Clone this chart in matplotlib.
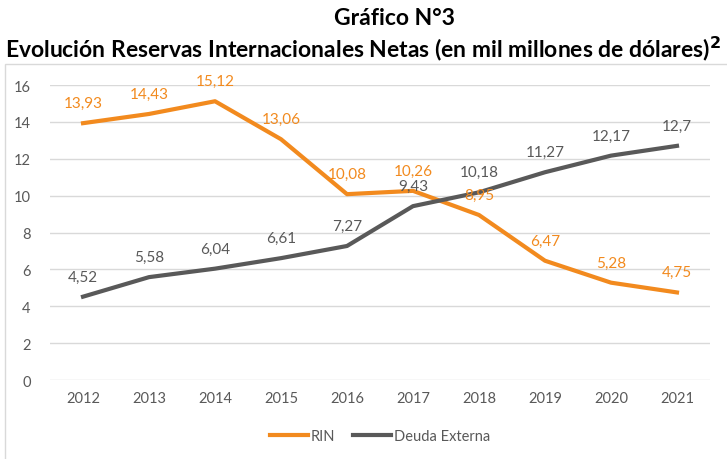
import matplotlib
matplotlib.use("Agg")
import matplotlib.pyplot as plt
from matplotlib.patches import Rectangle

plt.rcParams['font.family'] = ['Lato', 'DejaVu Sans']

years = [2012, 2013, 2014, 2015, 2016, 2017, 2018, 2019, 2020, 2021]
rin = [13.93, 14.43, 15.12, 13.06, 10.08, 10.26, 8.95, 6.47, 5.28, 4.75]
deuda = [4.52, 5.58, 6.04, 6.61, 7.27, 9.43, 10.18, 11.27, 12.17, 12.7]
rin_labels = ["13,93", "14,43", "15,12", "13,06", "10,08", "10,26", "8,95", "6,47", "5,28", "4,75"]
deuda_labels = ["4,52", "5,58", "6,04", "6,61", "7,27", "9,43", "10,18", "11,27", "12,17", "12,7"]

orange = "#F28A1E"
gray = "#595959"

fig = plt.figure(figsize=(7.27, 4.6), dpi=100)
ax = fig.add_axes([0.0688, 0.1717, 0.9078, 0.6413])

x = list(range(len(years)))
ax.plot(x, rin, color=orange, lw=3, label="RIN", solid_joinstyle="round")
ax.plot(x, deuda, color=gray, lw=3, label="Deuda Externa", solid_joinstyle="round")

for xi, v, t in zip(x, rin, rin_labels):
    ax.annotate(t, (xi, v), xytext=(0, 9.5), textcoords="offset points",
                ha="center", va="bottom", color=orange, fontsize=11)
for xi, v, t in zip(x, deuda, deuda_labels):
    ax.annotate(t, (xi, v), xytext=(0, 9.5), textcoords="offset points",
                ha="center", va="bottom", color=gray, fontsize=11)

ax.set_xlim(-0.5, len(years) - 0.5)
ax.set_ylim(0, 16)
ax.set_yticks(range(0, 17, 2))
ax.set_xticks(x)
ax.set_xticklabels([str(y) for y in years])
ax.grid(axis="y", color="#D9D9D9", lw=1)
ax.set_axisbelow(True)
for s in ax.spines.values():
    s.set_visible(False)
ax.tick_params(length=0, colors=gray, labelsize=10.5, pad=8)
ax.tick_params(axis="y", pad=14)

ax.legend(loc="center", bbox_to_anchor=(0.5, -0.19), ncol=2, frameon=False,
          fontsize=10.5, labelcolor=gray, handlelength=2.6, handletextpad=0.2,
          columnspacing=1.2)

# chart frame
fig.patches.append(Rectangle((5 / 727, -0.01), 1.0, 1 - 65 / 460 + 0.01,
                             transform=fig.transFigure, fill=False,
                             edgecolor="#D9D9D9", lw=1))

fig.text(0.543, 0.96, "Gráfico N°3", ha="center", va="center",
         fontsize=16.5, fontweight="bold", color="black")
fig.text(0.5, 0.895, "Evolución Reservas Internacionales Netas (en mil millones de dólares)$^{\\mathbf{2}}$",
         ha="center", va="center", fontsize=16.5, fontweight="bold", color="black")

fig.savefig("out.png", dpi=100)
